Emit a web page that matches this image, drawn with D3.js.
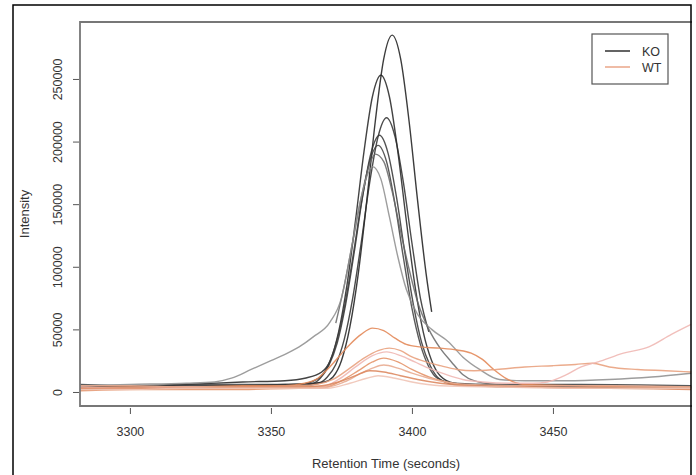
<!DOCTYPE html>
<html>
<head>
<meta charset="utf-8">
<script src="https://cdn.jsdelivr.net/npm/d3@7"></script>
<style>
body { margin: 0; background: #fff; }
svg text { font-family: "Liberation Sans", Arial, sans-serif; fill: #333; }
</style>
</head>
<body>
<svg id="chart" width="696" height="475"></svg>
<script>
// tick labels and groups
const xTicks = [3300, 3350, 3400, 3450];
const yTicks = [0, 50000, 100000, 150000, 200000, 250000];
const groups = ["KO", "WT"];

// KO runs: [retention time, intensity]
const ko1 = [[3282,3000],[3300,4000],[3320,4000],[3340,5000],[3355,6000],[3365,7000],[3369,8000],[3372,12000],[3375,25000],[3378,52000],[3381,95000],[3384,153000],[3387,216000],[3390,266000],[3393,285000],[3396,266000],[3399,216000],[3402,153000],[3405,95000],[3407,64000]];
const ko2 = [[3282,5000],[3300,4000],[3320,6000],[3340,8000],[3355,9000],[3362,11000],[3368,16000],[3371,25000],[3374,48000],[3377,86000],[3380,137000],[3383,192000],[3386,236000],[3389,253000],[3392,236000],[3395,192000],[3398,137000],[3401,86000],[3404,48000],[3407,25000],[3410,13000],[3415,7000],[3425,5000],[3440,4000],[3460,4000],[3480,3000],[3499,3000]];
const ko3 = [[3282,2000],[3300,3000],[3320,3000],[3340,4000],[3360,5000],[3367,7000],[3370,12000],[3373,22000],[3376,42000],[3379,75000],[3382,119000],[3385,167000],[3388,204000],[3391,219000],[3394,204000],[3397,167000],[3400,119000],[3403,75000],[3406,48000]];
const ko4 = [[3282,4000],[3300,4000],[3320,5000],[3340,5000],[3360,5000],[3364,6000],[3367.5,11000],[3370.5,21000],[3373.5,39000],[3376.5,70000],[3379.5,111000],[3382.5,156000],[3385.5,191000],[3388.5,205000],[3391.5,191000],[3394.5,156000],[3397.5,111000],[3400.5,70000],[3403.5,39000],[3406.5,21000],[3409.5,11000],[3415,6000],[3430,5000],[3460,4000],[3499,4000]];
const ko5 = [[3282,6000],[3300,5000],[3320,6000],[3340,6000],[3360,6000],[3367,11000],[3370,20000],[3373,38000],[3376,67000],[3379,107000],[3382,150000],[3385,184000],[3388,197000],[3391,184000],[3394,150000],[3397,107000],[3400,67000],[3403,38000],[3406,20000],[3409,11000],[3415,7000],[3430,6000],[3460,6000],[3499,5000]];
const ko6 = [[3373,55000],[3376,85000],[3379,120000],[3382,155000],[3385,182000],[3387,190000],[3390,184000],[3393,160000],[3396,128000],[3399,98000],[3402,72000],[3406,50000],[3410,35000],[3414,24000],[3418,14000],[3422,9000],[3430,6000],[3450,5000],[3499,4000]];
const ko7 = [[3282,5000],[3300,6000],[3320,7000],[3330,8000],[3336,11000],[3343,18000],[3350,25000],[3355,30000],[3360,36000],[3365,44000],[3371,56000],[3375,75000],[3378,108000],[3381,145000],[3384,172000],[3386,180000],[3389,170000],[3392,140000],[3395,108000],[3398,82000],[3402,62000],[3407,50000],[3413,40000],[3418,28000],[3424,18000],[3431,10000],[3440,9000],[3455,9000],[3470,10000],[3485,12000],[3499,15000]];

// WT runs
const wt1 = [[3282,3000],[3300,4000],[3320,4000],[3340,5000],[3355,5000],[3362,7000],[3366,10000],[3370,18000],[3374,28000],[3378,38000],[3382,46000],[3386,51000],[3390,49000],[3394,43000],[3398,38000],[3403,36000],[3410,35000],[3416,33500],[3421,31000],[3425,26000],[3429,18000],[3434,10000],[3440,6000],[3460,5000],[3480,4000],[3499,4000]];
const wt2 = [[3282,2000],[3300,3000],[3320,3000],[3340,4000],[3360,5000],[3366,6000],[3372,10000],[3378,19000],[3383,27000],[3388,33000],[3392,35000],[3396,33000],[3400,28000],[3405,24000],[3410,21000],[3416,18000],[3422,17000],[3430,18000],[3440,20000],[3450,21000],[3458,22000],[3464,23000],[3470,20000],[3480,18000],[3490,17000],[3499,16000]];
const wt3 = [[3282,4000],[3300,3000],[3320,4000],[3340,3000],[3360,4000],[3368,4000],[3374,10000],[3380,20000],[3386,29000],[3391,32000],[3396,29000],[3401,24000],[3406,19000],[3412,14000],[3418,10000],[3425,8000],[3435,7000],[3443,7000],[3448,8000],[3455,14000],[3460,20000],[3466,24000],[3475,31000],[3484,36000],[3492,46000],[3499,54000]];
const wt4 = [[3282,1000],[3300,2000],[3320,2000],[3340,2000],[3360,3000],[3368,3000],[3375,9000],[3381,17000],[3386,24000],[3390,27000],[3395,24000],[3400,18000],[3406,12000],[3412,8000],[3420,5000],[3440,4000],[3470,3000],[3499,3000]];
const wt5 = [[3282,5000],[3300,5000],[3320,4000],[3340,4000],[3360,4000],[3370,4000],[3376,8000],[3382,15000],[3386,19000],[3390,21500],[3395,19000],[3400,15000],[3406,11000],[3412,8000],[3420,6000],[3440,5000],[3470,5000],[3499,4000]];
const wt6 = [[3282,3000],[3300,3000],[3320,3000],[3340,4000],[3360,4000],[3368,5000],[3374,8000],[3380,13000],[3385,17000],[3390,16000],[3396,13000],[3402,10000],[3410,7000],[3420,5000],[3440,4000],[3470,3000],[3499,2000]];
const wt7 = [[3282,2000],[3300,2000],[3320,3000],[3340,3000],[3360,3000],[3370,3000],[3378,7000],[3384,11000],[3388,13000],[3394,11000],[3400,8000],[3410,5000],[3430,4000],[3460,3000],[3499,3000]];

const koRuns = [ko1, ko2, ko3, ko4, ko5, ko6, ko7];
const wtRuns = [wt1, wt2, wt3, wt4, wt5, wt6, wt7];

// line colours
const koColors = ["#1a1a1a", "#222", "#2c2c2c", "#333", "#3c3c3c", "#666", "#8c8c8c"];
const wtColors = ["#e38a5a", "#e9a27f", "#efb8b4", "#e4956a", "#e8ab90", "#dd8a62", "#f0c4b6"];
const legendColors = ["#222", "#e8a080"];

const svg = d3.select("#chart");

// plot region
const plotLeft = 80, plotRight = 690, plotTop = 22, plotBottom = 406;

const x = d3.scaleLinear().domain([3282.3, 3498.6]).range([plotLeft, plotRight]);
const y = d3.scaleLinear().domain([-11200, 295500]).range([plotBottom, plotTop]);

svg.append("defs").append("clipPath").attr("id", "plotClip")
    .append("rect").attr("x", plotLeft).attr("y", plotTop)
    .attr("width", 612).attr("height", plotBottom - plotTop);

const line = d3.line()
    .x(d => x(d[0]))
    .y(d => y(d[1]))
    .curve(d3.curveMonotoneX);

const plot = svg.append("g").attr("clip-path", "url(#plotClip)");

// KO first, WT on top
plot.selectAll("path.ko").data(koRuns).enter().append("path")
    .attr("class", "ko")
    .attr("d", line)
    .attr("fill", "none")
    .attr("stroke", (d, i) => koColors[i])
    .attr("stroke-opacity", 0.85)
    .attr("stroke-width", 1.4);

plot.selectAll("path.wt").data(wtRuns).enter().append("path")
    .attr("class", "wt")
    .attr("d", line)
    .attr("fill", "none")
    .attr("stroke", (d, i) => wtColors[i])
    .attr("stroke-opacity", 0.9)
    .attr("stroke-width", 1.4);

// plot frame (right side runs under the outer border)
svg.append("path")
    .attr("d", `M692,${plotTop}H${plotLeft}V${plotBottom}H692`)
    .attr("fill", "none")
    .attr("stroke", "#777")
    .attr("stroke-width", 1.8);

// y axis
const yAxis = svg.append("g")
    .attr("transform", "translate(79,0)")
    .call(d3.axisLeft(y).tickValues(yTicks).tickSize(6).tickFormat(d3.format("d")));
yAxis.select(".domain").remove();
yAxis.selectAll("line").attr("stroke", "#555");
yAxis.selectAll("text")
    .attr("x", null).attr("dy", null)
    .attr("transform", "translate(-17,0) rotate(-90)")
    .attr("text-anchor", "middle")
    .attr("font-size", 12.5)
    .attr("fill", "#333");

// x axis
const xAxis = svg.append("g")
    .attr("transform", "translate(0,408)")
    .call(d3.axisBottom(x).tickValues(xTicks).tickSize(6).tickFormat(d3.format("d")));
xAxis.select(".domain").remove();
xAxis.selectAll("line").attr("stroke", "#555");
xAxis.selectAll("text")
    .attr("y", 19)
    .attr("font-size", 12.5)
    .attr("fill", "#333");

// axis titles
svg.append("text")
    .attr("transform", "translate(29,214) rotate(-90)")
    .attr("text-anchor", "middle")
    .attr("font-size", 13)
    .text("Intensity");

svg.append("text")
    .attr("x", 386).attr("y", 468)
    .attr("text-anchor", "middle")
    .attr("font-size", 13)
    .text("Retention Time (seconds)");

// legend
const legend = svg.append("g");
legend.append("rect")
    .attr("x", 592).attr("y", 34)
    .attr("width", 76).attr("height", 50)
    .attr("fill", "#fff")
    .attr("stroke", "#555")
    .attr("stroke-width", 1.2);

groups.forEach(function (g, i) {
    legend.append("line")
        .attr("x1", 605).attr("x2", 630)
        .attr("y1", 51 + i * 16).attr("y2", 51 + i * 16)
        .attr("stroke", legendColors[i])
        .attr("stroke-width", 1.4);
    legend.append("text")
        .attr("x", 642).attr("y", 55.5 + i * 16)
        .attr("font-size", 12.5)
        .text(g);
});

// outer border of the figure
svg.append("path")
    .attr("d", "M13,475V5H691V475")
    .attr("fill", "none")
    .attr("stroke", "#000")
    .attr("stroke-width", 1.5);
</script>
</body>
</html>
